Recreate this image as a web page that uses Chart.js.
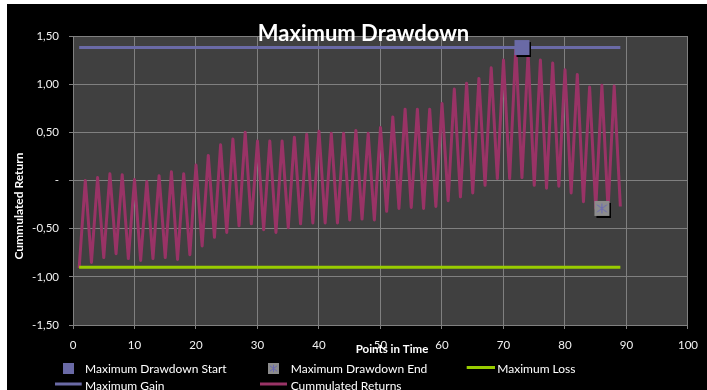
<!DOCTYPE html>
<html>
<head>
<meta charset="utf-8">
<title>Maximum Drawdown</title>
<script src="https://cdn.jsdelivr.net/npm/chart.js@4.4.1/dist/chart.umd.min.js"></script>
<style>
  html, body { margin: 0; padding: 0; background: #ffffff; }
  #wrap { position: absolute; left: 7px; top: 4px; width: 700px; height: 386px; background: #000000; overflow: hidden; }
  canvas { display: block; }
</style>
</head>
<body>
<div id="wrap"><canvas id="chart" width="700" height="386"></canvas></div>
<script>
// Points in time (x) and the cumulated return at each point
const timePoints = [
  1, 2, 3, 4, 5, 6, 7, 8, 9, 10, 11, 12, 13, 14, 15, 16, 17, 18, 19, 20,
  21, 22, 23, 24, 25, 26, 27, 28, 29, 30, 31, 32, 33, 34, 35, 36, 37, 38, 39, 40,
  41, 42, 43, 44, 45, 46, 47, 48, 49, 50, 51, 52, 53, 54, 55, 56, 57, 58, 59, 60,
  61, 62, 63, 64, 65, 66, 67, 68, 69, 70, 71, 72, 73, 74, 75, 76, 77, 78, 79, 80,
  81, 82, 83, 84, 85, 86, 87, 88, 89
];
const cumulatedReturns = [
  -0.91, 0.00, -0.85, 0.03, -0.80, 0.07, -0.76, 0.06, -0.81, 0.01,
  -0.83, -0.01, -0.81, 0.05, -0.80, 0.09, -0.82, 0.07, -0.77, 0.16,
  -0.68, 0.26, -0.59, 0.37, -0.54, 0.43, -0.47, 0.50, -0.45, 0.41,
  -0.51, 0.41, -0.54, 0.41, -0.49, 0.45, -0.45, 0.48, -0.44, 0.51,
  -0.44, 0.49, -0.44, 0.49, -0.41, 0.52, -0.40, 0.49, -0.41, 0.55,
  -0.32, 0.66, -0.29, 0.74, -0.28, 0.74, -0.29, 0.74, -0.27, 0.80,
  -0.21, 0.95, -0.17, 1.01, -0.13, 1.06, -0.05, 1.17, 0.02, 1.25,
  0.02, 1.38, 0.03, 1.32, -0.05, 1.25, -0.08, 1.22, -0.06, 1.15,
  -0.13, 1.10, -0.22, 0.97, -0.29, 0.99, -0.30, 0.98, -0.27
];

// Reference levels and drawdown markers
const maxGainLine = [{ x: 1, y: 1.38 }, { x: 89, y: 1.38 }];
const maxLossLine = [{ x: 1, y: -0.90 }, { x: 89, y: -0.90 }];
const drawdownStart = [{ x: 73, y: 1.38 }];
const drawdownEnd = [{ x: 86, y: -0.29 }];

// Axis ticks
const xTickValues = [0, 10, 20, 30, 40, 50, 60, 70, 80, 90, 100];
const yTickValues = [-1.5, -1.0, -0.5, 0, 0.5, 1.0, 1.5];
const yTickLabels = ['-1,50', '-1,00', '-0,50', '-', '0,50', '1,00', '1,50'];

const COL_GAIN = '#6a6aa6';
const COL_LOSS = '#99cc00';
const COL_RET = '#993366';
const COL_END = '#8c8c8c';
const COL_TEXT = '#f2f2f2';
const FONT = 'Lato, "DejaVu Sans", sans-serif';

function drawStartSymbol(ctx, cx, cy, s) {
  ctx.fillStyle = COL_GAIN;
  ctx.fillRect(cx - s / 2, cy - s / 2, s, s);
}
function drawEndSymbol(ctx, cx, cy, s) {
  ctx.fillStyle = COL_END;
  ctx.fillRect(cx - s / 2, cy - s / 2, s, s);
  const r = s * 0.33;
  ctx.strokeStyle = '#6a6ab4';
  ctx.lineWidth = 1;
  ctx.beginPath();
  ctx.moveTo(cx, cy - r); ctx.lineTo(cx, cy + r);
  ctx.moveTo(cx - r, cy - r * 0.75); ctx.lineTo(cx + r, cy + r * 0.75);
  ctx.moveTo(cx - r, cy + r * 0.75); ctx.lineTo(cx + r, cy - r * 0.75);
  ctx.stroke();
}
// Marker image: square with a hard black drop shadow
function markerImage(drawFn) {
  const s = 15, off = 2;
  const c = document.createElement('canvas');
  c.width = s + 2 * off; c.height = s + 2 * off;
  const g = c.getContext('2d');
  g.fillStyle = '#000000';
  g.fillRect(2 * off, 2 * off, s, s);
  drawFn(g, off + s / 2, off + s / 2, s);
  return c;
}
const startImg = markerImage(drawStartSymbol);
const endImg = markerImage(drawEndSymbol);

const plotBackground = {
  id: 'plotBackground',
  beforeDraw(chart) {
    const { ctx, chartArea: a } = chart;
    ctx.save();
    ctx.fillStyle = '#404040';
    ctx.fillRect(a.left, a.top, a.right - a.left, a.bottom - a.top);
    ctx.restore();
  }
};

const labels = {
  id: 'labels',
  afterDraw(chart) {
    const ctx = chart.ctx;
    const ds = chart.data.datasets;
    ctx.save();
    ctx.fillStyle = '#ffffff';
    // chart title
    ctx.font = 'bold 22px ' + FONT;
    ctx.textAlign = 'center';
    ctx.textBaseline = 'alphabetic';
    ctx.fillText('Maximum Drawdown', 356.5, 37);
    // axis titles
    ctx.font = 'bold 11.5px ' + FONT;
    ctx.textBaseline = 'middle';
    ctx.fillText('Points in Time', 385, 345);
    ctx.font = 'bold 12px ' + FONT;
    ctx.save();
    ctx.translate(12, 202);
    ctx.rotate(-Math.PI / 2);
    ctx.fillText('Cummulated Return', 0, 0);
    ctx.restore();

    // legend
    ctx.font = '12px ' + FONT;
    ctx.textAlign = 'left';
    ctx.textBaseline = 'alphabetic';
    const row1 = 368.7, row2 = 385.5;
    drawStartSymbol(ctx, 61.5, 364.5, 11);
    ctx.fillStyle = '#ffffff';
    ctx.fillText(ds[0].label, 78, row1);
    drawEndSymbol(ctx, 266.5, 364.5, 11);
    ctx.fillStyle = '#ffffff';
    ctx.fillText(ds[1].label, 283.7, row1);
    const legendLine = (x1, x2, y, col) => {
      ctx.strokeStyle = col; ctx.lineWidth = 3;
      ctx.beginPath(); ctx.moveTo(x1, y); ctx.lineTo(x2, y); ctx.stroke();
    };
    legendLine(459.7, 488, 363.5, ds[2].borderColor);
    ctx.fillText(ds[2].label, 490.3, row1);
    legendLine(48, 74.7, 380, ds[3].borderColor);
    ctx.fillText(ds[3].label, 78, row2);
    legendLine(253, 280, 380, ds[4].borderColor);
    ctx.fillText(ds[4].label, 283.7, row2);
    ctx.restore();
  }
};

function build() {
  new Chart(document.getElementById('chart'), {
    type: 'line',
    data: {
      datasets: [
        {
          label: 'Maximum Drawdown Start',
          data: drawdownStart,
          showLine: false,
          pointStyle: startImg,
          pointRadius: 8
        },
        {
          label: 'Maximum Drawdown End',
          data: drawdownEnd,
          showLine: false,
          pointStyle: endImg,
          pointRadius: 8
        },
        {
          label: 'Maximum Loss',
          data: maxLossLine,
          borderColor: COL_LOSS,
          borderWidth: 3,
          pointRadius: 0
        },
        {
          label: 'Maximum Gain',
          data: maxGainLine,
          borderColor: COL_GAIN,
          borderWidth: 3,
          pointRadius: 0
        },
        {
          label: 'Cummulated Returns',
          data: cumulatedReturns.map((v, i) => ({ x: timePoints[i], y: v })),
          borderColor: COL_RET,
          borderWidth: 3,
          borderJoinStyle: 'round',
          tension: 0,
          pointRadius: 0
        }
      ]
    },
    options: {
      responsive: false,
      animation: false,
      events: [],
      layout: { padding: { left: 0, right: 19, top: 32, bottom: 0 } },
      plugins: {
        legend: { display: false },
        title: { display: false },
        tooltip: { enabled: false }
      },
      scales: {
        x: {
          type: 'linear',
          min: 0,
          max: 100,
          afterBuildTicks(scale) { scale.ticks = xTickValues.map(v => ({ value: v })); },
          afterFit(scale) { scale.height = 65; },
          ticks: {
            color: COL_TEXT,
            font: { family: FONT, size: 11.5 },
            padding: 9,
            maxRotation: 0,
            autoSkip: false,
            callback: v => String(v)
          },
          grid: { color: '#808080', lineWidth: 1, tickLength: 4, drawTicks: true },
          border: { color: '#808080', width: 1 }
        },
        y: {
          type: 'linear',
          min: -1.5,
          max: 1.5,
          afterBuildTicks(scale) { scale.ticks = yTickValues.map(v => ({ value: v })); },
          afterFit(scale) { scale.width = 66; },
          ticks: {
            color: COL_TEXT,
            font: { family: FONT, size: 11.5 },
            padding: 10,
            autoSkip: false,
            callback: v => {
              const i = yTickValues.findIndex(t => Math.abs(t - v) < 1e-9);
              return i >= 0 ? yTickLabels[i] : '';
            }
          },
          grid: { color: '#808080', lineWidth: 1, tickLength: 4, drawTicks: true },
          border: { color: '#808080', width: 1 }
        }
      }
    },
    plugins: [plotBackground, labels]
  });
}

Promise.all([
  document.fonts.load('12px Lato'),
  document.fonts.load('bold 12px Lato')
]).then(build, build);
</script>
</body>
</html>
